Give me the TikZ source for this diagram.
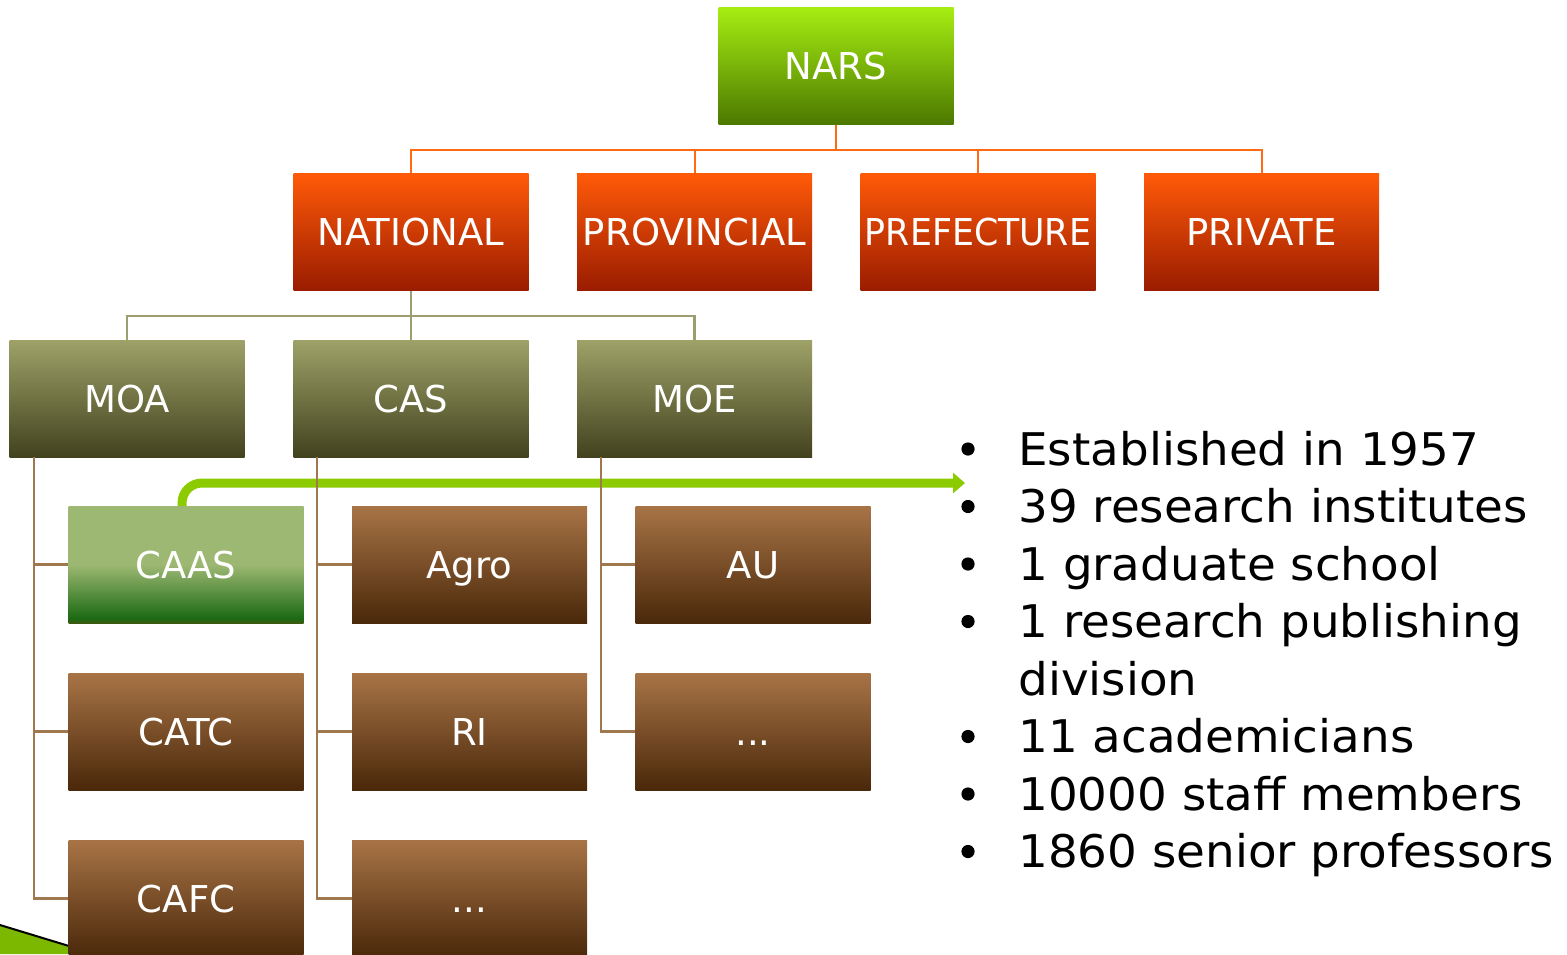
\documentclass[tikz,border=0pt]{standalone}
\usepackage{fontspec}
\usepackage{graphicx}
\setmainfont{DejaVu Sans}
\newfontfamily\factfont[FakeStretch=1.04]{DejaVu Sans}
\usetikzlibrary{arrows.meta,calc}

% colours of the chart
\definecolor{narstop}{HTML}{A6EE12}
\definecolor{narsbot}{HTML}{4C7800}
\definecolor{orgtop}{HTML}{FF5A08}
\definecolor{orgbot}{HTML}{9A1C00}
\definecolor{olvtop}{HTML}{9EA268}
\definecolor{olvbot}{HTML}{42421E}
\definecolor{brntop}{HTML}{A87446}
\definecolor{brnbot}{HTML}{4A280A}
\definecolor{caaslight}{HTML}{9DB872}
\definecolor{caasdark}{HTML}{1C6A14}
\definecolor{caasbase}{HTML}{3E5A10}
\definecolor{orgline}{HTML}{FF6A14}
\definecolor{olvline}{HTML}{9C9E70}
\definecolor{brnline}{HTML}{A07850}
\definecolor{arrowgreen}{HTML}{8CCB00}
\definecolor{leafgreen}{HTML}{7CB800}

\pgfdeclareverticalshading{caasshade}{100bp}{color(0bp)=(caasbase); color(25bp)=(caasbase);
  color(27bp)=(caasdark); color(50bp)=(caaslight); color(100bp)=(caaslight)}

\tikzset{
  box/.style={rectangle, minimum width=117.5pt, minimum height=58.5pt, inner sep=0pt,
    text width=117.5pt, align=center, text height=13.5pt, text depth=0pt,
    text=white, font=\fontsize{18.5}{22}\selectfont},
  narsbox/.style={box, top color=narstop, bottom color=narsbot},
  levelbox/.style={box, top color=orgtop, bottom color=orgbot},
  ministrybox/.style={box, top color=olvtop, bottom color=olvbot},
  unitbox/.style={box, top color=brntop, bottom color=brnbot},
  caasbox/.style={box, shading=caasshade},
  orangeline/.style={draw=orgline, line width=1pt},
  oliveline/.style={draw=olvline, line width=1.1pt},
  brownline/.style={draw=brnline, line width=1.1pt},
  factline/.style={anchor=base west, inner sep=0pt, font=\factfont\fontsize{22.5}{28}\selectfont},
}

\begin{document}
\begin{tikzpicture}[x=0.5pt, y=-0.5pt]
        \useasboundingbox (0,0) rectangle (1567,954);

        % Corner decoration
        \fill[leafgreen] (0,925) -- (69,946) -- (69,954) -- (0,954) -- cycle;
        \draw[black, line width=1pt] (0,925) -- (69,946);

        % Boxes
        \node[narsbox] (nars) at (836,66) {NARS};

        \node[levelbox] (national)   at (411,232)    {NATIONAL};
        \node[levelbox] (provincial) at (694.5,232)  {PROVINCIAL};
        \node[levelbox] (prefecture) at (978,232)    {\scalebox{0.94}[1]{PREFECTURE}};
        \node[levelbox] (private)    at (1261.5,232) {PRIVATE};

        \node[ministrybox] (moa) at (127,398.5)   {MOA};
        \node[ministrybox] (cas) at (411,398.5)   {CAS};
        \node[ministrybox] (moe) at (694.5,398.5) {MOE};

        % Legs of the ministries
        \coordinate (moaleg) at ($(moa.south west)+(25,0)$);
        \coordinate (casleg) at ($(cas.south west)+(24,0)$);
        \coordinate (moeleg) at ($(moe.south west)+(24,0)$);

        % Arrow from CAAS to the facts
        \coordinate (factpoint) at (965,483);
        \draw[arrowgreen, line width=4.5pt, rounded corners=10pt,
              -{Triangle[length=6pt,width=10pt]}]
              (186-4,510) |- (factpoint);

        \node[caasbox] (caas) at (186,564.5)   {CAAS};
        \node[unitbox] (agro) at (469.5,564.5) {Agro};
        \node[unitbox] (au)   at (753,564.5)   {AU};

        \node[unitbox] (catc)  at (186,731.5)   {CATC};
        \node[unitbox] (ri)    at (469.5,731.5) {RI};
        \node[unitbox] (moedots) at (753,731.5) {...};

        \node[unitbox] (cafc)  at (186,898.5)   {CAFC};
        \node[unitbox] (casdots) at (469.5,898.5) {...};

        % Connectors NARS to levels
        \draw[orangeline] (nars.south) -- ++(0,25) -| (national.north);
        \draw[orangeline] (nars.south) -- ++(0,25) -| (provincial.north);
        \draw[orangeline] (nars.south) -- ++(0,25) -| (prefecture.north);
        \draw[orangeline] (nars.south) -- ++(0,25) -| (private.north);

        % Connectors NATIONAL to ministries
        \draw[oliveline] (national.south) -- ++(0,25) -| (moa.north);
        \draw[oliveline] (national.south) -- ++(0,25) -| (cas.north);
        \draw[oliveline] (national.south) -- ++(0,25) -| (moe.north);

        % Connectors ministries to units
        \draw[brownline] (moaleg) |- (cafc.west);
        \draw[brownline] (moaleg |- caas.west) -- (caas.west);
        \draw[brownline] (moaleg |- catc.west) -- (catc.west);
        \draw[brownline] (casleg) |- (casdots.west);
        \draw[brownline] (casleg |- agro.west) -- (agro.west);
        \draw[brownline] (casleg |- ri.west) -- (ri.west);
        \draw[brownline] (moeleg) |- (moedots.west);
        \draw[brownline] (moeleg |- au.west) -- (au.west);

        % Facts about CAAS
        \node[factline] (fact1) at (1018,465)   {Established in 1957};
        \node[factline] (fact2) at (1018,522.5) {39 research institutes};
        \node[factline] (fact3) at (1018,580)   {1 graduate school};
        \node[factline] (fact4) at (1018,637.5) {1 research publishing};
        \node[factline] (fact4b) at (1018,695)  {division};
        \node[factline] (fact5) at (1018,752.5) {11 academicians};
        \node[factline] (fact6) at (1018,810)   {10000 staff members};
        \node[factline] (fact7) at (1018,867.5) {1860 senior professors};
        \foreach \f in {fact1,fact2,fact3,fact4,fact5,fact6,fact7}
          \fill (968,0 |- \f.base) ++(0,-16) circle (3.3pt);
\end{tikzpicture}
\end{document}
